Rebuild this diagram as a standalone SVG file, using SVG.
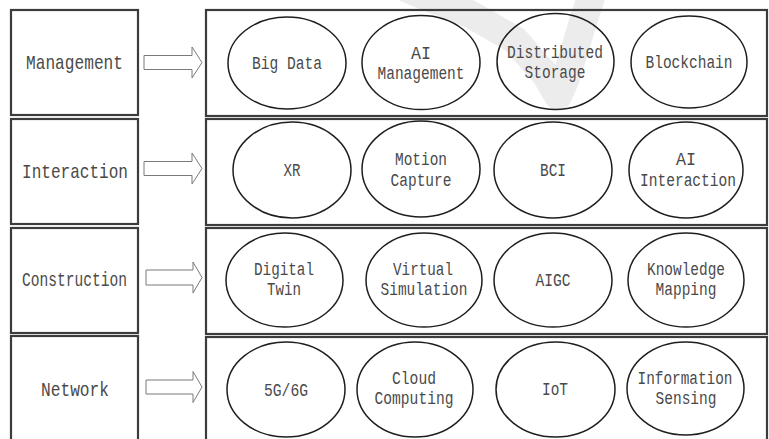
<svg xmlns="http://www.w3.org/2000/svg" width="769" height="439" viewBox="0 0 769 439">
  <style>
    .box { fill: none; stroke: #3c3c3c; stroke-width: 2.2; }
    .oval { fill: none; stroke: #1e1e1e; stroke-width: 1.5; }
    .arrow { fill: #ffffff; stroke: #7a7a7a; stroke-width: 1; }
    .lbl { font-family: "Liberation Mono", "DejaVu Sans Mono", monospace; font-size: 21px; fill: #4a4a4a; text-anchor: middle; }
    .item { font-family: "Liberation Mono", "DejaVu Sans Mono", monospace; font-size: 19px; fill: #4a4a4a; text-anchor: middle; }
  </style>
  <rect width="769" height="439" fill="#ffffff"/>

  <!-- faint background mark -->
  <path d="M405,-12 L470,14 L515,40 L545,74 L558,96 L566,78 L583,22 L594,-12" fill="none" stroke="#ececec" stroke-width="28" stroke-linejoin="round"/>

  <!-- layer label boxes -->
  <g id="layer-management">
    <rect class="box" x="11" y="10" width="127" height="105"/>
    <text class="lbl" x="74.5" y="69" textLength="97" lengthAdjust="spacingAndGlyphs">Management</text>
  </g>
  <g id="layer-interaction">
    <rect class="box" x="11" y="119" width="127" height="105"/>
    <text class="lbl" x="75" y="178" textLength="106" lengthAdjust="spacingAndGlyphs">Interaction</text>
  </g>
  <g id="layer-construction">
    <rect class="box" x="11" y="228" width="127" height="105"/>
    <text class="lbl" x="74.5" y="286" textLength="105" lengthAdjust="spacingAndGlyphs">Construction</text>
  </g>
  <g id="layer-network">
    <rect class="box" x="11" y="336" width="127" height="110"/>
    <text class="lbl" x="75" y="396" textLength="68" lengthAdjust="spacingAndGlyphs">Network</text>
  </g>

  <!-- block arrows between label and technology rows -->
  <g id="connectors">
    <polygon class="arrow" points="144,55.5 192,55.5 192,47 202,62.5 192,78 192,69.5 144,69.5"/>
    <polygon class="arrow" points="144,161.5 192,161.5 192,153 202,168.5 192,184 192,175.5 144,175.5"/>
    <polygon class="arrow" points="146,270 193,270 193,262 202,277.5 193,293 193,285 146,285"/>
    <polygon class="arrow" points="146,380 193,380 193,371.5 202,387 193,402.5 193,394 146,394"/>
  </g>

  <!-- technology rows -->
  <g id="row-management">
    <rect class="box" x="206" y="10" width="561" height="106"/>
  </g>
  <g id="row-interaction">
    <rect class="box" x="206" y="119" width="561" height="106"/>
  </g>
  <g id="row-construction">
    <rect class="box" x="206" y="228" width="561" height="106"/>
  </g>
  <g id="row-network">
    <rect class="box" x="206" y="337" width="561" height="110"/>
  </g>

  <!-- management technologies -->
  <g id="big-data">
    <ellipse class="oval" cx="287" cy="63" rx="59" ry="46"/>
    <text class="item" x="287" y="69" textLength="70" lengthAdjust="spacingAndGlyphs">Big Data</text>
  </g>
  <g id="ai-management">
    <ellipse class="oval" cx="421" cy="62.5" rx="59" ry="47"/>
    <text class="item" x="421" y="59" textLength="20" lengthAdjust="spacingAndGlyphs">AI</text>
    <text class="item" x="421" y="79" textLength="87" lengthAdjust="spacingAndGlyphs">Management</text>
  </g>
  <g id="distributed-storage">
    <ellipse class="oval" cx="555.5" cy="61.5" rx="58.5" ry="48"/>
    <text class="item" x="555" y="58" textLength="96" lengthAdjust="spacingAndGlyphs">Distributed</text>
    <text class="item" x="555" y="78" textLength="61" lengthAdjust="spacingAndGlyphs">Storage</text>
  </g>
  <g id="blockchain">
    <ellipse class="oval" cx="689" cy="62" rx="58" ry="46"/>
    <text class="item" x="689" y="68" textLength="87" lengthAdjust="spacingAndGlyphs">Blockchain</text>
  </g>

  <!-- interaction technologies -->
  <g id="xr">
    <ellipse class="oval" cx="292" cy="170" rx="59" ry="48"/>
    <text class="item" x="292" y="176" textLength="17" lengthAdjust="spacingAndGlyphs">XR</text>
  </g>
  <g id="motion-capture">
    <ellipse class="oval" cx="421" cy="169" rx="59" ry="48"/>
    <text class="item" x="421" y="165" textLength="52" lengthAdjust="spacingAndGlyphs">Motion</text>
    <text class="item" x="421" y="186" textLength="61" lengthAdjust="spacingAndGlyphs">Capture</text>
  </g>
  <g id="bci">
    <ellipse class="oval" cx="553" cy="170" rx="59" ry="48"/>
    <text class="item" x="553" y="176" textLength="26" lengthAdjust="spacingAndGlyphs">BCI</text>
  </g>
  <g id="ai-interaction">
    <ellipse class="oval" cx="686" cy="170" rx="57" ry="48"/>
    <text class="item" x="686" y="165" textLength="20" lengthAdjust="spacingAndGlyphs">AI</text>
    <text class="item" x="688" y="186" textLength="96" lengthAdjust="spacingAndGlyphs">Interaction</text>
  </g>

  <!-- construction technologies -->
  <g id="digital-twin">
    <ellipse class="oval" cx="284.5" cy="280" rx="58.5" ry="47"/>
    <text class="item" x="284" y="275" textLength="60" lengthAdjust="spacingAndGlyphs">Digital</text>
    <text class="item" x="284" y="295" textLength="34" lengthAdjust="spacingAndGlyphs">Twin</text>
  </g>
  <g id="virtual-simulation">
    <ellipse class="oval" cx="424" cy="280" rx="58" ry="47"/>
    <text class="item" x="423" y="275" textLength="60" lengthAdjust="spacingAndGlyphs">Virtual</text>
    <text class="item" x="424" y="295" textLength="87" lengthAdjust="spacingAndGlyphs">Simulation</text>
  </g>
  <g id="aigc">
    <ellipse class="oval" cx="553" cy="280" rx="59" ry="47"/>
    <text class="item" x="553" y="286" textLength="35" lengthAdjust="spacingAndGlyphs">AIGC</text>
  </g>
  <g id="knowledge-mapping">
    <ellipse class="oval" cx="686" cy="280" rx="58" ry="47"/>
    <text class="item" x="686" y="275" textLength="78" lengthAdjust="spacingAndGlyphs">Knowledge</text>
    <text class="item" x="686" y="295" textLength="61" lengthAdjust="spacingAndGlyphs">Mapping</text>
  </g>

  <!-- network technologies -->
  <g id="g5-6g">
    <ellipse class="oval" cx="286" cy="389.5" rx="59" ry="47.5"/>
    <text class="item" x="286" y="396" textLength="44" lengthAdjust="spacingAndGlyphs">5G/6G</text>
  </g>
  <g id="cloud-computing">
    <ellipse class="oval" cx="415" cy="389.5" rx="58" ry="47.5"/>
    <text class="item" x="414" y="384" textLength="44" lengthAdjust="spacingAndGlyphs">Cloud</text>
    <text class="item" x="414" y="404" textLength="79" lengthAdjust="spacingAndGlyphs">Computing</text>
  </g>
  <g id="iot">
    <ellipse class="oval" cx="555.5" cy="389.5" rx="59.5" ry="47.5"/>
    <text class="item" x="555" y="395" textLength="26" lengthAdjust="spacingAndGlyphs">IoT</text>
  </g>
  <g id="information-sensing">
    <ellipse class="oval" cx="685.5" cy="388.5" rx="58.5" ry="46.5"/>
    <text class="item" x="685" y="384" textLength="95" lengthAdjust="spacingAndGlyphs">Information</text>
    <text class="item" x="686" y="404" textLength="61" lengthAdjust="spacingAndGlyphs">Sensing</text>
  </g>
</svg>
